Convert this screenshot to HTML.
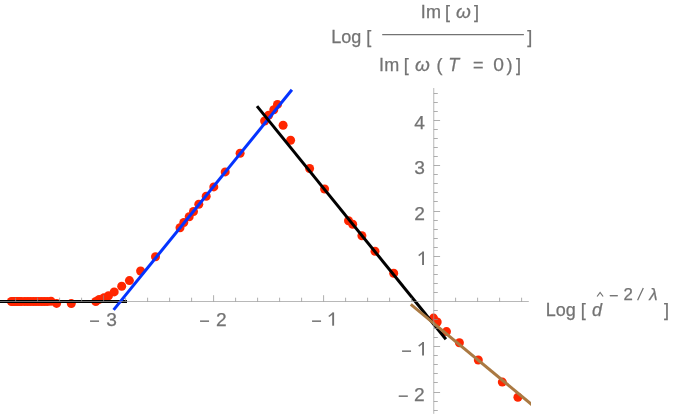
<!DOCTYPE html>
<html><head><meta charset="utf-8"><title>plot</title>
<style>
html,body{margin:0;padding:0;background:#fff;}
body{width:675px;height:416px;overflow:hidden;font-family:"Liberation Sans",sans-serif;}
svg{display:block;will-change:transform;}
text{font-family:"Liberation Sans",sans-serif;fill:#737373;stroke:#737373;stroke-width:0.25px;}
.i{font-style:italic;}
</style></head><body>
<svg width="675" height="416" viewBox="0 0 675 416">
<rect width="675" height="416" fill="#fff"/>
<g fill="#FF2600"><circle cx="11.4" cy="301.5" r="4.5"/><circle cx="12.8" cy="301.5" r="4.5"/><circle cx="14.3" cy="301.5" r="4.5"/><circle cx="15.9" cy="301.5" r="4.5"/><circle cx="17.6" cy="301.5" r="4.5"/><circle cx="19.4" cy="301.5" r="4.5"/><circle cx="21.3" cy="301.5" r="4.5"/><circle cx="24.6" cy="301.5" r="4.5"/><circle cx="27.5" cy="301.5" r="4.5"/><circle cx="30.3" cy="301.5" r="4.5"/><circle cx="33.2" cy="301.5" r="4.5"/><circle cx="36.0" cy="301.5" r="4.5"/><circle cx="38.9" cy="301.5" r="4.5"/><circle cx="41.7" cy="301.5" r="4.5"/><circle cx="44.5" cy="301.5" r="4.5"/><circle cx="47.4" cy="301.5" r="4.5"/><circle cx="51.0" cy="301.3" r="4.5"/><circle cx="56.6" cy="303.4" r="4.5"/><circle cx="71.3" cy="303.6" r="4.5"/><circle cx="95.8" cy="301.5" r="4.5"/><circle cx="99.2" cy="299.4" r="4.5"/><circle cx="104.0" cy="297.7" r="4.5"/><circle cx="108.5" cy="295.8" r="4.5"/><circle cx="114.2" cy="291.9" r="4.5"/><circle cx="121.7" cy="286.3" r="4.5"/><circle cx="129.4" cy="280.6" r="4.5"/><circle cx="140.6" cy="271.0" r="4.5"/><circle cx="155.5" cy="256.7" r="4.5"/><circle cx="180.0" cy="227.7" r="4.5"/><circle cx="183.8" cy="222.5" r="4.5"/><circle cx="189.2" cy="216.7" r="4.5"/><circle cx="193.5" cy="211.5" r="4.5"/><circle cx="198.8" cy="204.2" r="4.5"/><circle cx="206.2" cy="196.2" r="4.5"/><circle cx="213.8" cy="186.9" r="4.5"/><circle cx="225.2" cy="171.9" r="4.5"/><circle cx="240.1" cy="153.3" r="4.5"/><circle cx="264.6" cy="121.0" r="4.5"/><circle cx="268.6" cy="115.2" r="4.5"/><circle cx="273.8" cy="109.8" r="4.5"/><circle cx="277.5" cy="104.4" r="4.5"/><circle cx="283.1" cy="125.3" r="4.5"/><circle cx="290.6" cy="140.2" r="4.5"/><circle cx="309.6" cy="168.5" r="4.5"/><circle cx="324.6" cy="189.0" r="4.5"/><circle cx="348.5" cy="220.8" r="4.5"/><circle cx="352.7" cy="224.2" r="4.5"/><circle cx="361.9" cy="235.8" r="4.5"/><circle cx="375.0" cy="251.2" r="4.5"/><circle cx="393.7" cy="273.3" r="4.5"/><circle cx="433.5" cy="318.1" r="4.5"/><circle cx="437.2" cy="322.0" r="4.5"/><circle cx="446.5" cy="331.6" r="4.5"/><circle cx="459.4" cy="342.8" r="4.5"/><circle cx="478.3" cy="360.0" r="4.5"/><circle cx="502.3" cy="382.1" r="4.5"/><circle cx="517.9" cy="397.2" r="4.5"/></g>
<line x1="0" y1="301.5" x2="127" y2="301.5" stroke="#000" stroke-width="3"/>
<line x1="113.6" y1="309.83" x2="291.9" y2="89.79" stroke="#0433FF" stroke-width="3"/>
<line x1="257.0" y1="106.08" x2="445.9" y2="339.20" stroke="#000" stroke-width="3"/>
<clipPath id="c"><rect x="0" y="0" width="531" height="416"/></clipPath><line x1="410.8" y1="304.34" x2="535.8" y2="407.91" stroke="#AA7942" stroke-width="3" clip-path="url(#c)"/>
<g stroke="#8c8c8c" stroke-width="0.7" fill="none"><line x1="0" y1="301.5" x2="528.8" y2="301.5" stroke="#999"/><line x1="433.75" y1="88" x2="433.75" y2="413.8" stroke="#999"/><line x1="15.60" y1="301.5" x2="15.60" y2="297.7" stroke="#8c8c8c"/><line x1="37.60" y1="301.5" x2="37.60" y2="297.7" stroke="#8c8c8c"/><line x1="59.60" y1="301.5" x2="59.60" y2="297.7" stroke="#8c8c8c"/><line x1="81.60" y1="301.5" x2="81.60" y2="297.7" stroke="#8c8c8c"/><line x1="103.60" y1="301.5" x2="103.60" y2="295.2" stroke="#8c8c8c"/><line x1="125.60" y1="301.5" x2="125.60" y2="297.7" stroke="#8c8c8c"/><line x1="147.60" y1="301.5" x2="147.60" y2="297.7" stroke="#8c8c8c"/><line x1="169.60" y1="301.5" x2="169.60" y2="297.7" stroke="#8c8c8c"/><line x1="191.60" y1="301.5" x2="191.60" y2="297.7" stroke="#8c8c8c"/><line x1="213.60" y1="301.5" x2="213.60" y2="295.2" stroke="#8c8c8c"/><line x1="235.60" y1="301.5" x2="235.60" y2="297.7" stroke="#8c8c8c"/><line x1="257.60" y1="301.5" x2="257.60" y2="297.7" stroke="#8c8c8c"/><line x1="279.60" y1="301.5" x2="279.60" y2="297.7" stroke="#8c8c8c"/><line x1="301.60" y1="301.5" x2="301.60" y2="297.7" stroke="#8c8c8c"/><line x1="323.60" y1="301.5" x2="323.60" y2="295.2" stroke="#8c8c8c"/><line x1="345.60" y1="301.5" x2="345.60" y2="297.7" stroke="#8c8c8c"/><line x1="367.60" y1="301.5" x2="367.60" y2="297.7" stroke="#8c8c8c"/><line x1="389.60" y1="301.5" x2="389.60" y2="297.7" stroke="#8c8c8c"/><line x1="411.60" y1="301.5" x2="411.60" y2="297.7" stroke="#8c8c8c"/><line x1="455.60" y1="301.5" x2="455.60" y2="297.7" stroke="#8c8c8c"/><line x1="477.60" y1="301.5" x2="477.60" y2="297.7" stroke="#8c8c8c"/><line x1="499.60" y1="301.5" x2="499.60" y2="297.7" stroke="#8c8c8c"/><line x1="521.60" y1="301.5" x2="521.60" y2="297.7" stroke="#8c8c8c"/><line x1="433.8" y1="410.50" x2="437.8" y2="410.50"/><line x1="433.8" y1="401.50" x2="437.8" y2="401.50"/><line x1="433.8" y1="392.50" x2="440.1" y2="392.50"/><line x1="433.8" y1="382.50" x2="437.8" y2="382.50"/><line x1="433.8" y1="373.50" x2="437.8" y2="373.50"/><line x1="433.8" y1="364.50" x2="437.8" y2="364.50"/><line x1="433.8" y1="355.50" x2="437.8" y2="355.50"/><line x1="433.8" y1="346.50" x2="440.1" y2="346.50"/><line x1="433.8" y1="337.50" x2="437.8" y2="337.50"/><line x1="433.8" y1="328.50" x2="437.8" y2="328.50"/><line x1="433.8" y1="319.50" x2="437.8" y2="319.50"/><line x1="433.8" y1="310.50" x2="437.8" y2="310.50"/><line x1="433.8" y1="292.50" x2="437.8" y2="292.50"/><line x1="433.8" y1="283.50" x2="437.8" y2="283.50"/><line x1="433.8" y1="274.50" x2="437.8" y2="274.50"/><line x1="433.8" y1="265.50" x2="437.8" y2="265.50"/><line x1="433.8" y1="256.50" x2="440.1" y2="256.50"/><line x1="433.8" y1="247.50" x2="437.8" y2="247.50"/><line x1="433.8" y1="238.50" x2="437.8" y2="238.50"/><line x1="433.8" y1="229.50" x2="437.8" y2="229.50"/><line x1="433.8" y1="220.50" x2="437.8" y2="220.50"/><line x1="433.8" y1="211.50" x2="440.1" y2="211.50"/><line x1="433.8" y1="201.50" x2="437.8" y2="201.50"/><line x1="433.8" y1="192.50" x2="437.8" y2="192.50"/><line x1="433.8" y1="183.50" x2="437.8" y2="183.50"/><line x1="433.8" y1="174.50" x2="437.8" y2="174.50"/><line x1="433.8" y1="165.50" x2="440.1" y2="165.50"/><line x1="433.8" y1="156.50" x2="437.8" y2="156.50"/><line x1="433.8" y1="147.50" x2="437.8" y2="147.50"/><line x1="433.8" y1="138.50" x2="437.8" y2="138.50"/><line x1="433.8" y1="129.50" x2="437.8" y2="129.50"/><line x1="433.8" y1="120.50" x2="440.1" y2="120.50"/><line x1="433.8" y1="111.50" x2="437.8" y2="111.50"/><line x1="433.8" y1="102.50" x2="437.8" y2="102.50"/><line x1="433.8" y1="93.50" x2="437.8" y2="93.50"/></g>
<text x="89.2" y="326.8" font-size="18">−</text><text x="106.2" y="325.7" font-size="19.2">3</text><text x="199.3" y="326.8" font-size="18">−</text><text x="216.0" y="325.7" font-size="19.2">2</text><text x="311.2" y="326.8" font-size="18">−</text><path d="M332.20 325.70V312.40H334.10V325.70Z" fill="#737373"/><path d="M328.80 316.50L332.80 313.30" stroke="#737373" stroke-width="1.5" fill="none"/><text x="424.9" y="129.1" font-size="19.2" text-anchor="end">4</text><text x="424.9" y="174.3" font-size="19.2" text-anchor="end">3</text><text x="424.9" y="219.6" font-size="19.2" text-anchor="end">2</text><path d="M422.10 264.90V251.60H424.00V264.90Z" fill="#737373"/><path d="M418.70 255.70L422.70 252.50" stroke="#737373" stroke-width="1.5" fill="none"/><text x="401.2" y="356.5" font-size="18">−</text><path d="M422.10 355.40V342.10H424.00V355.40Z" fill="#737373"/><path d="M418.70 346.20L422.70 343.00" stroke="#737373" stroke-width="1.5" fill="none"/><text x="397.9" y="401.70000000000005" font-size="18">−</text><text x="424.6" y="400.6" font-size="19.2" text-anchor="end">2</text>
<text transform="translate(331.2,43.2) scale(1,1.065)" font-size="18">L</text><text x="341.2" y="43.2" font-size="18">og [</text><line x1="382.2" y1="34.6" x2="523.9" y2="34.6" stroke="#737373" stroke-width="1.1"/><text x="527.3" y="43.2" font-size="18">]</text><text transform="translate(420.7,18) scale(1,1.065)" font-size="18">I</text><text x="426.0" y="18" font-size="18">m</text><text x="444.9" y="18" font-size="18">[</text><text x="456" y="18" font-size="19" class="i">ω</text><text x="474.0" y="18" font-size="18">]</text><text transform="translate(379.0,71.4) scale(1,1.065)" font-size="18">I</text><text x="384.3" y="71.4" font-size="18">m</text><text x="403.7" y="71.4" font-size="18">[</text><text x="415" y="71.4" font-size="19" class="i">ω</text><text x="436.6" y="71.4" font-size="18">(</text><text transform="translate(448.3,71.4) scale(1,1.065)" font-size="18" class="i">T</text><text x="473" y="71.4" font-size="18">=</text><text x="493.2" y="71.4" font-size="19.2">0</text><text x="506.6" y="71.4" font-size="18">)</text><text x="515.9" y="71.4" font-size="18">]</text>
<text transform="translate(545.7,315.9) scale(1,1.065)" font-size="18">L</text><text x="555.7" y="315.9" font-size="18">og [</text><text x="592" y="315.9" font-size="18" class="i">d</text><polyline points="597.1,296.5 600.1,292.4 603.1,296.5" fill="none" stroke="#737373" stroke-width="1.2"/><text x="609" y="301.4" font-size="16">−</text><text x="623.4" y="299.8" font-size="16.8">2</text><line x1="637.6" y1="300.3" x2="643.3" y2="288" stroke="#737373" stroke-width="1.3"/><text x="649.2" y="299.8" font-size="17" class="i">λ</text><text x="663.9" y="315.9" font-size="18">]</text>
</svg>
</body></html>
